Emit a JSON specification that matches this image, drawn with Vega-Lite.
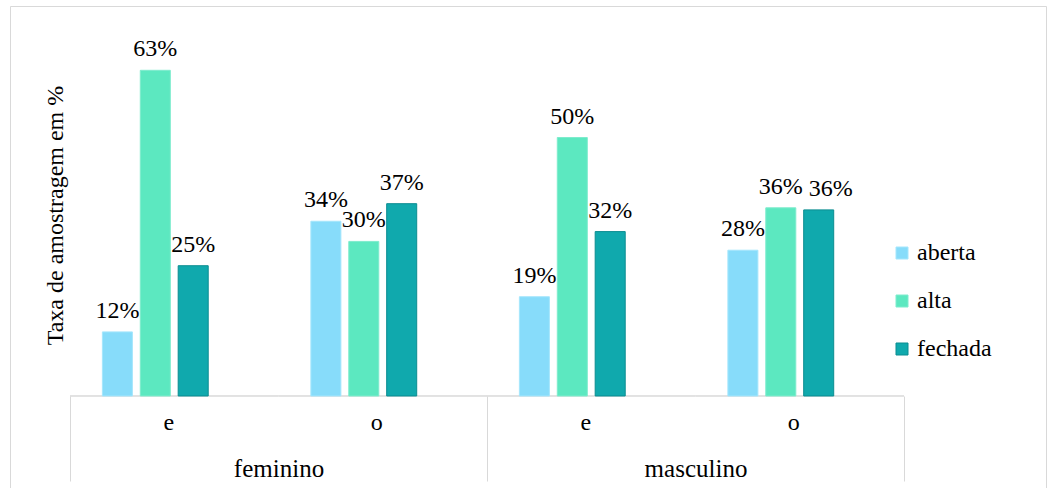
{
  "$schema": "https://vega.github.io/schema/vega-lite/v6.json",
  "width": 1036,
  "height": 482,
  "autosize": {"type": "none"},
  "padding": {"left": 10, "top": 6, "right": 6, "bottom": 0},
  "background": "white",
  "config": {
    "view": {"stroke": "#d9d9d9", "strokeWidth": 1},
    "font": "Liberation Serif",
    "text": {"font": "Liberation Serif"},
    "axis": {"labelFont": "Liberation Serif", "titleFont": "Liberation Serif"},
    "legend": {"labelFont": "Liberation Serif", "titleFont": "Liberation Serif"}
  },
  "datasets": {
    "bars": [
      {"categoria": "feminino|e", "tipo": "aberta", "taxa": 0.124},
      {"categoria": "feminino|e", "tipo": "alta", "taxa": 0.630},
      {"categoria": "feminino|e", "tipo": "fechada", "taxa": 0.252},
      {"categoria": "feminino|o", "tipo": "aberta", "taxa": 0.338},
      {"categoria": "feminino|o", "tipo": "alta", "taxa": 0.299},
      {"categoria": "feminino|o", "tipo": "fechada", "taxa": 0.372},
      {"categoria": "masculino|e", "tipo": "aberta", "taxa": 0.192},
      {"categoria": "masculino|e", "tipo": "alta", "taxa": 0.500},
      {"categoria": "masculino|e", "tipo": "fechada", "taxa": 0.318},
      {"categoria": "masculino|o", "tipo": "aberta", "taxa": 0.282},
      {"categoria": "masculino|o", "tipo": "alta", "taxa": 0.364},
      {"categoria": "masculino|o", "tipo": "fechada", "taxa": 0.360}
    ],
    "cats": [
      {"categoria": "feminino|e"},
      {"categoria": "feminino|o"},
      {"categoria": "masculino|e"},
      {"categoria": "masculino|o"}
    ],
    "generos": [
      {"genero": "feminino"},
      {"genero": "masculino"}
    ]
  },
  "layer": [
    {
      "data": {"name": "generos"},
      "mark": {"type": "point", "opacity": 0},
      "encoding": {
        "x": {
          "field": "genero",
          "type": "nominal",
          "scale": {"domain": ["feminino", "masculino"], "paddingInner": 0, "paddingOuter": 0.2422, "align": 0.297},
          "axis": {
            "orient": "bottom",
            "offset": -92,
            "title": null,
            "domain": false,
            "tickBand": "extent",
            "tickSize": 85,
            "tickColor": "#d9d9d9",
            "tickWidth": 1,
            "labelAngle": 0,
            "labelPadding": -25,
            "labelFontSize": 25,
            "labelColor": "#000000",
            "labelFont": "Liberation Serif"
          }
        },
        "y": {"datum": 0, "type": "quantitative"}
      }
    },
    {
      "layer": [
        {
          "data": {"name": "cats"},
          "mark": {"type": "bar", "fill": null, "stroke": "#d9d9d9", "strokeWidth": 1},
          "encoding": {
            "x": {"field": "categoria", "type": "nominal"},
            "y": {"datum": 0, "type": "quantitative"},
            "y2": {"datum": 0}
          }
        },
        {
          "data": {"name": "bars"},
          "mark": {"type": "bar", "strokeWidth": 1},
          "encoding": {
            "x": {
              "field": "categoria",
              "type": "nominal",
              "scale": {"domain": ["feminino|e", "feminino|o", "masculino|e", "masculino|o"], "paddingInner": 0, "paddingOuter": 0.4844, "align": 0.297},
              "axis": {
                "orient": "bottom",
                "offset": -92,
                "title": null,
                "domain": false,
                "ticks": false,
                "labelAngle": 0,
                "labelPadding": 26,
                "labelFontSize": 24,
                "labelColor": "#000000",
                "labelFont": "Liberation Serif",
                "labelExpr": "slice(datum.value, -1)"
              }
            },
            "xOffset": {
              "field": "tipo",
              "type": "nominal",
              "scale": {"domain": ["aberta", "alta", "fechada", "-"], "paddingInner": 0.208, "paddingOuter": 0.8545, "align": 0.5}
            },
            "y": {
              "field": "taxa",
              "type": "quantitative",
              "scale": {"domain": [-0.178, 0.7544], "nice": false, "zero": false},
              "axis": {
                "title": "Taxa de amostragem em %",
                "domain": false,
                "ticks": false,
                "labels": false,
                "grid": false,
                "titleFont": "Liberation Serif",
                "titleFontSize": 24,
                "titleFontWeight": "normal",
                "titleColor": "#000000",
                "titleAngle": -90,
                "titleX": 45,
                "titleY": 209,
                "titleAlign": "center",
                "titleBaseline": "middle"
              }
            },
            "y2": {"datum": 0},
            "fill": {
              "field": "tipo",
              "type": "nominal",
              "scale": {"domain": ["aberta", "alta", "fechada"], "range": ["#87dcfa", "#5ce8c0", "#10a9ad"]},
              "legend": {
                "orient": "none",
                "legendX": 880,
                "legendY": 235,
                "title": null,
                "symbolType": "square",
                "symbolSize": 144,
                "symbolStrokeWidth": 1,
                "labelFontSize": 24,
                "labelFont": "Liberation Serif",
                "labelColor": "#000000",
                "labelOffset": 3,
                "rowPadding": 24
              }
            },
            "stroke": {
              "field": "tipo",
              "type": "nominal",
              "scale": {"domain": ["aberta", "alta", "fechada"], "range": ["#a5e6fc", "#7eeccd", "#0b8d91"]},
              "legend": null
            }
          }
        },
        {
          "data": {"name": "bars"},
          "transform": [{"filter": "!(datum.categoria === 'masculino|o' && datum.tipo === 'fechada')"}],
          "mark": {"type": "text", "baseline": "alphabetic", "dy": -14, "fontSize": 24, "font": "Liberation Serif", "color": "#000000"},
          "encoding": {
            "x": {"field": "categoria", "type": "nominal"},
            "xOffset": {"field": "tipo", "type": "nominal"},
            "y": {"field": "taxa", "type": "quantitative"},
            "text": {"field": "taxa", "type": "quantitative", "format": ".0%"}
          }
        },
        {
          "data": {"name": "bars"},
          "transform": [{"filter": "datum.categoria === 'masculino|o' && datum.tipo === 'fechada'"}],
          "mark": {"type": "text", "baseline": "alphabetic", "dy": -14, "dx": 12, "fontSize": 24, "font": "Liberation Serif", "color": "#000000"},
          "encoding": {
            "x": {"field": "categoria", "type": "nominal"},
            "xOffset": {"field": "tipo", "type": "nominal"},
            "y": {"field": "taxa", "type": "quantitative"},
            "text": {"field": "taxa", "type": "quantitative", "format": ".0%"}
          }
        }
      ]
    }
  ],
  "resolve": {"scale": {"x": "independent"}, "axis": {"x": "independent"}}
}
